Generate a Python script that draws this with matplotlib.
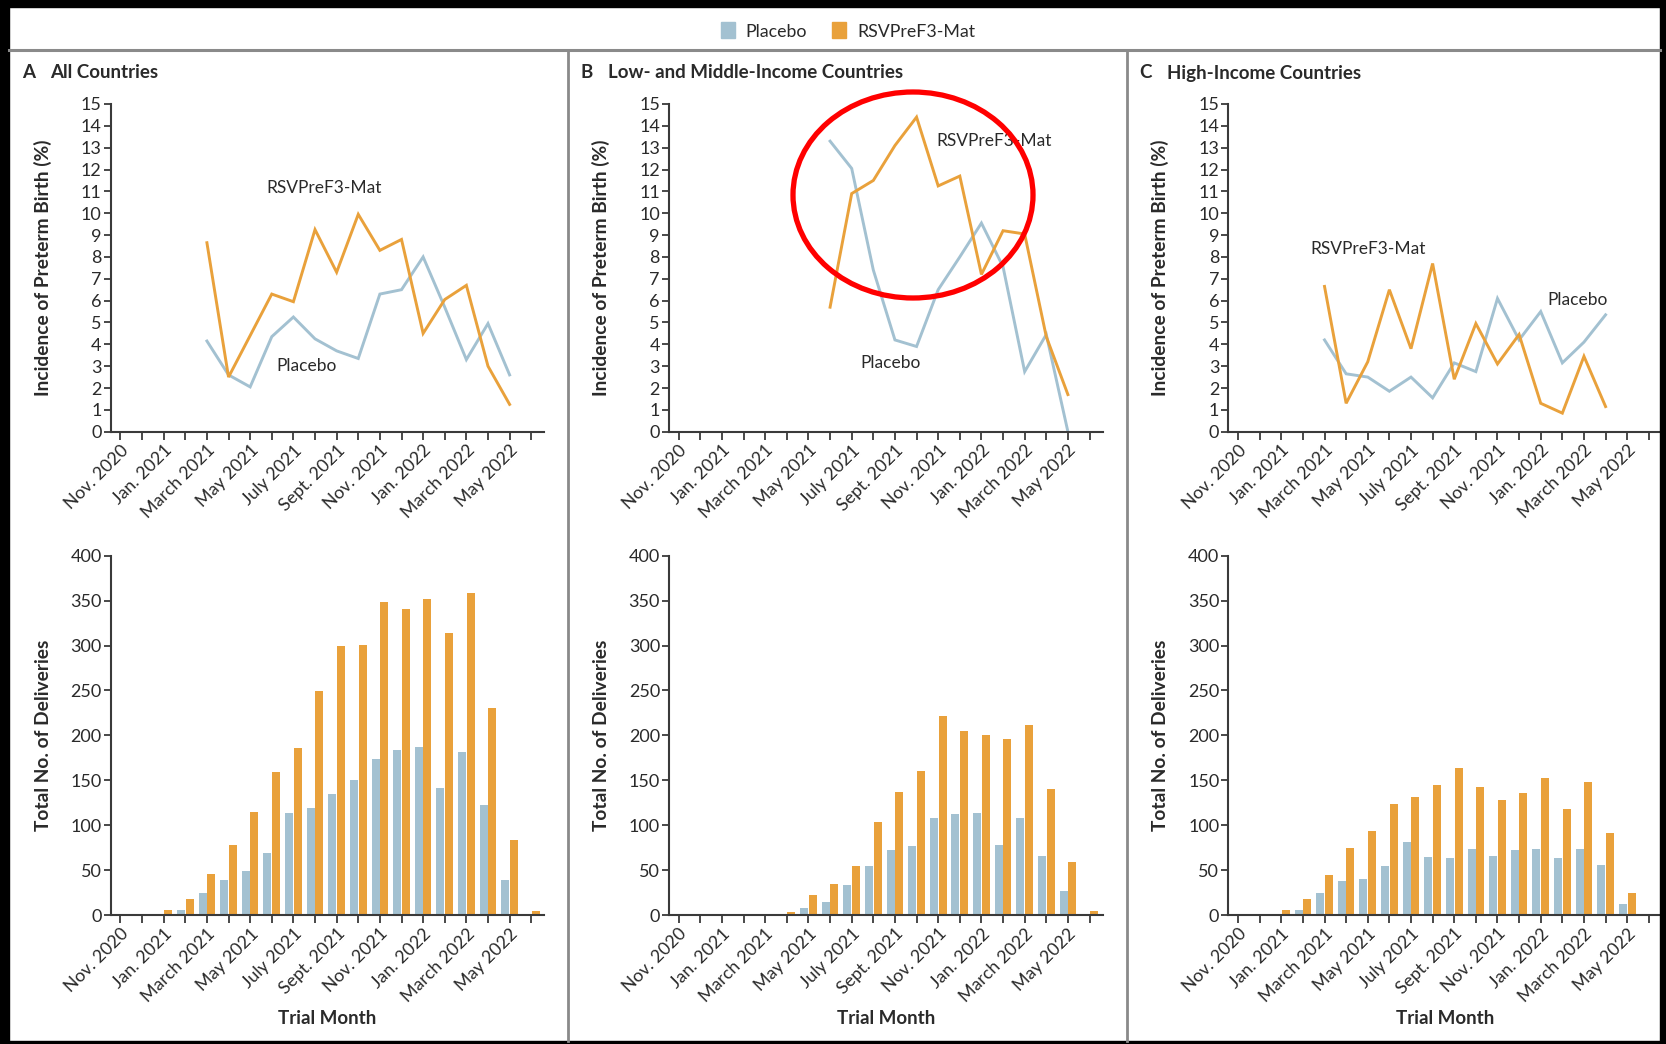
import numpy as np
import matplotlib
matplotlib.use("Agg")
import matplotlib.pyplot as plt
from matplotlib.patches import Ellipse, Rectangle, Patch
from matplotlib.lines import Line2D

plt.rcParams['font.family'] = ['Lato', 'DejaVu Sans']

# ---------------- data ----------------
months = ["Nov. 2020", "Dec. 2020", "Jan. 2021", "Feb. 2021", "March 2021",
          "April 2021", "May 2021", "June 2021", "July 2021", "Aug. 2021",
          "Sept. 2021", "Oct. 2021", "Nov. 2021", "Dec. 2021", "Jan. 2022",
          "Feb. 2022", "March 2022", "April 2022", "May 2022", "June 2022"]
N = None

# Incidence of preterm birth (%)
a_placebo_inc = [N, N, N, N, 4.15, 2.6, 2.05, 4.35, 5.25, 4.25, 3.7, 3.35, 6.3, 6.5, 8.0, 5.7, 3.3, 4.95, 2.6, N]
a_rsv_inc     = [N, N, N, N, 8.65, 2.5, 4.4, 6.3, 5.95, 9.25, 7.3, 9.95, 8.3, 8.8, 4.5, 6.05, 6.7, 3.0, 1.25, N]
b_placebo_inc = [N, N, N, N, N, N, N, 13.3, 12.05, 7.4, 4.2, 3.9, 6.5, 8.0, 9.55, 7.55, 2.75, 4.45, 0.0, N]
b_rsv_inc     = [N, N, N, N, N, N, N, 5.7, 10.9, 11.5, 13.1, 14.4, 11.25, 11.7, 7.2, 9.2, 9.05, 4.35, 1.7, N]
c_placebo_inc = [N, N, N, N, 4.2, 2.65, 2.5, 1.85, 2.5, 1.55, 3.15, 2.75, 6.1, 4.2, 5.5, 3.15, 4.1, 5.35, N, N]
c_rsv_inc     = [N, N, N, N, 6.65, 1.3, 3.2, 6.5, 3.8, 7.7, 2.4, 4.95, 3.1, 4.45, 1.3, 0.85, 3.45, 1.15, N, N]

# Total number of deliveries
a_placebo_n = [0, 0, 1, 6, 24, 39, 49, 69, 114, 119, 135, 150, 174, 184, 187, 141, 182, 122, 39, 1]
a_rsv_n     = [0, 0, 6, 18, 46, 78, 115, 159, 186, 249, 300, 301, 348, 341, 352, 314, 359, 231, 83, 4]
b_placebo_n = [0, 0, 0, 0, 0, 0, 8, 15, 33, 54, 72, 77, 108, 112, 114, 78, 108, 66, 27, 0]
b_rsv_n     = [0, 0, 0, 0, 0, 3, 22, 35, 55, 104, 137, 160, 221, 205, 200, 196, 211, 140, 59, 4]
c_placebo_n = [0, 0, 1, 6, 24, 38, 40, 54, 81, 65, 64, 73, 66, 72, 73, 63, 74, 56, 12, 0]
c_rsv_n     = [0, 0, 6, 18, 45, 75, 93, 124, 131, 145, 164, 142, 128, 136, 153, 118, 148, 91, 24, 0]

series_names = ["Placebo", "RSVPreF3-Mat"]
panel_letters = ["A", "B", "C"]
panel_titles = ["All Countries", "Low- and Middle-Income Countries", "High-Income Countries"]

# ---------------- style ----------------
C_PLA = '#a3c1d1'
C_RSV = '#e9a13b'
C_AX = '#3a3a3a'
C_TXT = '#2a2a2a'

W, H = 1666, 1044
fig = plt.figure(figsize=(W / 100, H / 100), dpi=100)
fig.patch.set_facecolor('white')

def fx(px):
    return px / W

def fy(py):
    return 1 - py / H

# frame
for (x0, y0, w, h) in [(0, 0, W, 7), (0, 0, 9, H), (W - 6, 0, 6, H), (0, H - 3, W, 3)]:
    fig.patches.append(Rectangle((fx(x0), fy(y0 + h)), w / W, h / H,
                                 transform=fig.transFigure, color='black', zorder=0))
fig.add_artist(Line2D([fx(9), fx(W - 6)], [fy(50), fy(50)], color='#8a8a8a', lw=2.2,
                      transform=fig.transFigure))
for xd in (568, 1127):
    fig.add_artist(Line2D([fx(xd), fx(xd)], [fy(50), fy(H - 3)], color='#8a8a8a', lw=2.0,
                          transform=fig.transFigure))

x = np.arange(len(months))
lefts = [110.7, 669.0, 1228.3]
ax_w = 433.5
top_y0, top_y1 = 104.0, 431.7
bot_y0, bot_y1 = 555.7, 915.0

inc_data = [(a_placebo_inc, a_rsv_inc), (b_placebo_inc, b_rsv_inc), (c_placebo_inc, c_rsv_inc)]
n_data = [(a_placebo_n, a_rsv_n), (b_placebo_n, b_rsv_n), (c_placebo_n, c_rsv_n)]
# label positions (month index, value) for direct labels
lab_pos = [
    ((8.6, 3.0), (9.4, 11.15)),
    ((9.8, 3.15), (14.6, 13.3)),
    ((15.7, 6.05), (6.0, 8.35)),
]

def to_arr(v):
    return np.array([np.nan if e is None else e for e in v], dtype=float)

def style_axis(ax):
    for s in ('top', 'right'):
        ax.spines[s].set_visible(False)
    for s in ('left', 'bottom'):
        ax.spines[s].set_color(C_AX)
        ax.spines[s].set_linewidth(1.5)
    ax.tick_params(axis='both', colors=C_AX, width=1.3, length=5, labelsize=13,
                   labelcolor=C_TXT, pad=1.5)
    ax.tick_params(axis='x', length=6)
    ax.set_xlim(-0.45, 19.6)
    ax.set_xticks(x)
    ax.set_xticklabels([m if i % 2 == 0 else '' for i, m in enumerate(months)],
                       rotation=45, ha='right', va='top', rotation_mode='anchor',
                       fontsize=12.8, color=C_TXT)

for k in range(3):
    L = lefts[k]
    # top: incidence
    axt = fig.add_axes([fx(L), fy(top_y1), ax_w / W, (top_y1 - top_y0) / H])
    style_axis(axt)
    p, r = inc_data[k]
    axt.plot(x, to_arr(p), color=C_PLA, lw=2.1, solid_joinstyle='miter')
    axt.plot(x, to_arr(r), color=C_RSV, lw=2.1, solid_joinstyle='miter')
    axt.set_ylim(0, 15)
    axt.set_yticks(np.arange(0, 16, 1))
    axt.set_ylabel("Incidence of Preterm Birth (%)", fontsize=13.8, fontweight='bold',
                   color=C_TXT)
    axt.yaxis.set_label_coords(-59 / ax_w, 0.5)
    (px_, py_), (rx_, ry_) = lab_pos[k]
    axt.text(px_, py_, series_names[0], fontsize=12.5, color=C_TXT, ha='center', va='center')
    axt.text(rx_, ry_, series_names[1], fontsize=12.5, color=C_TXT, ha='center', va='center')

    # panel title
    fig.text(fx(L - 89), fy(73), panel_letters[k], fontsize=13.5, fontweight='bold',
             color=C_TXT, va='center', ha='left')
    fig.text(fx(L - 61), fy(73), panel_titles[k], fontsize=13.5, fontweight='bold',
             color=C_TXT, va='center', ha='left')

    # bottom: deliveries
    axb = fig.add_axes([fx(L), fy(bot_y1), ax_w / W, (bot_y1 - bot_y0) / H])
    style_axis(axb)
    p, r = n_data[k]
    axb.bar(x - 0.2, p, width=0.37, color=C_PLA, linewidth=0)
    axb.bar(x + 0.2, r, width=0.37, color=C_RSV, linewidth=0)
    axb.set_ylim(0, 400)
    axb.set_yticks(np.arange(0, 401, 50))
    axb.set_ylabel("Total No. of Deliveries", fontsize=13.8, fontweight='bold', color=C_TXT)
    axb.yaxis.set_label_coords(-59 / ax_w, 0.5)
    axb.set_xlabel("Trial Month", fontsize=13.5, fontweight='bold', color=C_TXT)
    axb.xaxis.set_label_coords(0.5, -(1010 - bot_y1) / (bot_y1 - bot_y0))

# legend
fig.legend(handles=[Patch(color=C_PLA), Patch(color=C_RSV)], labels=series_names,
           loc='center', bbox_to_anchor=(fx(848), fy(31)), ncol=2, frameon=False,
           fontsize=12.8, handlelength=0.8, handleheight=1.0, handletextpad=0.6,
           columnspacing=1.4, labelcolor=C_TXT)

# red highlight ellipse
fig.patches.append(Ellipse((fx(913), fy(195)), 240 / W, 206 / H, transform=fig.transFigure,
                           fill=False, edgecolor='#ff0000', lw=3.8, zorder=10))

fig.savefig("out.png", dpi=100)
